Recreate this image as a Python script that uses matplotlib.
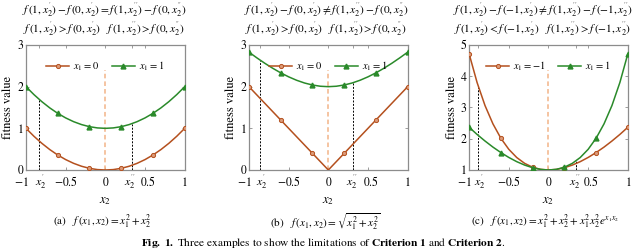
import numpy as np
import matplotlib
matplotlib.use('Agg')
import matplotlib.pyplot as plt
from matplotlib.transforms import ScaledTranslation

plt.rcParams['font.family'] = 'STIXGeneral'
plt.rcParams['mathtext.fontset'] = 'stix'

# x2 grid (step 0.1) shared by all panels
x2 = [-1.0, -0.9, -0.8, -0.7, -0.6, -0.5, -0.4, -0.3, -0.2, -0.1, 0.0,
      0.1, 0.2, 0.3, 0.4, 0.5, 0.6, 0.7, 0.8, 0.9, 1.0]

# (a) f = x1^2 + x2^2
a_x1_0 = [1.00, 0.81, 0.64, 0.49, 0.36, 0.25, 0.16, 0.09, 0.04, 0.01, 0.00,
          0.01, 0.04, 0.09, 0.16, 0.25, 0.36, 0.49, 0.64, 0.81, 1.00]
a_x1_1 = [2.00, 1.81, 1.64, 1.49, 1.36, 1.25, 1.16, 1.09, 1.04, 1.01, 1.00,
          1.01, 1.04, 1.09, 1.16, 1.25, 1.36, 1.49, 1.64, 1.81, 2.00]

# (b) f = sqrt(x1^2 + x2^2)
b_x1_0 = [2.0, 1.8, 1.6, 1.4, 1.2, 1.0, 0.8, 0.6, 0.4, 0.2, 0.0,
          0.2, 0.4, 0.6, 0.8, 1.0, 1.2, 1.4, 1.6, 1.8, 2.0]
b_x1_1 = [2.828, 2.691, 2.561, 2.441, 2.332, 2.236, 2.154, 2.088, 2.040, 2.010, 2.000,
          2.010, 2.040, 2.088, 2.154, 2.236, 2.332, 2.441, 2.561, 2.691, 2.828]

# (c) f = x1^2 + x2^2 + x1^2 x2^2 e^(x1 x2)
c_x1_m1 = [4.718, 3.802, 3.064, 2.477, 2.016, 1.662, 1.399, 1.212, 1.089, 1.021, 1.000,
           1.019, 1.073, 1.157, 1.267, 1.402, 1.558, 1.733, 1.928, 2.139, 2.368]
c_x1_p1 = [2.368, 2.139, 1.928, 1.733, 1.558, 1.402, 1.267, 1.157, 1.073, 1.019, 1.000,
           1.021, 1.089, 1.212, 1.399, 1.662, 2.016, 2.477, 3.064, 3.802, 4.718]

# x2' and x2'' positions and the heights the black dashed lines reach
a_marks = [(-0.84, 1.71), (0.33, 1.11)]
b_marks = [(-0.86, 2.64), (0.31, 2.09)]
c_marks = [(-0.89, 3.69), (0.35, 1.29)]
center_top = [2.4, 2.4, 4.2]

ylims = [(0, 3), (0, 3), (1, 5)]
yticks = [[0, 1, 2, 3], [0, 1, 2, 3], [1, 2, 3, 4, 5]]

labels = [(r'$x_1=0$', r'$x_1=1$'), (r'$x_1=0$', r'$x_1=1$'), (r'$x_1=-1$', r'$x_1=1$')]

titles = [
    (r"$f\,(1,x_2^{'})-f\,(0,x_2^{'})=f\,(1,x_2^{''})-f\,(0,x_2^{''})$",
     r"$f\,(1,x_2^{'})>f\,(0,x_2^{'})\quad f\,(1,x_2^{''})>f\,(0,x_2^{''})$"),
    (r"$f\,(1,x_2^{'})-f\,(0,x_2^{'})\neq f\,(1,x_2^{''})-f\,(0,x_2^{''})$",
     r"$f\,(1,x_2^{'})>f\,(0,x_2^{'})\quad f\,(1,x_2^{''})>f\,(0,x_2^{''})$"),
    (r"$f\,(1,x_2^{'})-f\,(-1,x_2^{'})\neq f\,(1,x_2^{''})-f\,(-1,x_2^{''})$",
     r"$f\,(1,x_2^{'})<f\,(-1,x_2^{'})\quad f\,(1,x_2^{''})>f\,(-1,x_2^{''})$"),
]
captions = [
    r"(a)   $f\,(x_1,x_2)=x_1^2+x_2^2$",
    r"(b)   $f\,(x_1,x_2)=\sqrt{x_1^2+x_2^2}$",
    r"(c)   $f\,(x_1,x_2)=x_1^2+x_2^2+x_1^2x_2^2e^{x_1x_2}$",
]

series = [(a_x1_0, a_x1_1), (b_x1_0, b_x1_1), (c_x1_m1, c_x1_p1)]
marks = [a_marks, b_marks, c_marks]

brown = '#b4501e'
green = '#2a8a2a'
orange = '#f2b488'
spine = '#8c8c8c'

fig = plt.figure(figsize=(6.4, 2.5), dpi=100)
lefts = [0.0406, 0.389, 0.733]
width = 0.248
title_cx = [104, 326, 543]
# small horizontal nudges (points) for the crowded tick labels
nudge = [-3.5, 1.5, 0, 0, -1, 2, 0]

for i in range(3):
    ax = fig.add_axes([lefts[i], 0.32, width, 0.50])
    s0, s1 = series[i]
    ax.plot(x2, s0, color=brown, lw=1.1, marker='o', markersize=3,
            markerfacecolor='#dc9a78', markeredgecolor=brown, markeredgewidth=0.7,
            markevery=[0, 4, 8, 12, 16, 20], label=labels[i][0], zorder=3)
    ax.plot(x2, s1, color=green, lw=1.1, marker='^', markersize=3.5,
            markerfacecolor=green, markeredgecolor=green,
            markevery=[0, 4, 8, 12, 16, 20], label=labels[i][1], zorder=3)
    lo, hi = ylims[i]
    ax.vlines(0, lo, center_top[i], colors=orange, linestyles=(0, (3, 2)), lw=1.1, zorder=2)
    for xm, ym in marks[i]:
        ax.vlines(xm, lo, ym, colors='black', linestyles=(0, (2, 1.5)), lw=0.7, zorder=2)
    ax.set_xlim(-1, 1)
    ax.set_ylim(lo, hi)
    ax.set_yticks(yticks[i])
    (m1, _), (m2, _) = marks[i]
    ax.set_xticks([-1, m1, -0.5, 0, m2, 0.5, 1])
    ax.set_xticklabels([r'$-1$', r"$x_2^{'}$", r'$-0.5$', r'$0$', r"$x_2^{''}$", r'$0.5$', r'$1$'])
    ax.tick_params(direction='in', length=2.5, width=0.6, color=spine,
                   labelsize=8.5, pad=2, top=True, right=True)
    ax.tick_params(axis='x', pad=11.5)
    for lab, dx in zip(ax.get_xticklabels(), nudge):
        lab.set_verticalalignment('baseline')
        lab.set_transform(lab.get_transform() + ScaledTranslation(dx / 72, 0, fig.dpi_scale_trans))
    for sp in ax.spines.values():
        sp.set_color(spine)
        sp.set_linewidth(0.9)
    ax.set_xlabel(r'$x_2$', fontsize=9, labelpad=3)
    ax.set_ylabel('fitness value', fontsize=9, labelpad=2)
    ax.legend(loc='upper center', bbox_to_anchor=(0.5, 0.96), ncol=2, frameon=False,
              fontsize=7.5, handlelength=2.2, columnspacing=1.2, handletextpad=0.4)
    cx = title_cx[i] / 640
    fig.text(cx, 1 - 11 / 250, titles[i][0], ha='center', va='center', fontsize=8.2)
    fig.text(cx, 1 - 30 / 250, titles[i][1], ha='center', va='center', fontsize=8.2)
    fig.text(lefts[i] + width / 2 - 0.005, 1 - 222 / 250, captions[i],
             ha='center', va='center', fontsize=8)

fig.text(0.505, 1 - 243 / 250,
         r'$\mathbf{Fig.\ 1.}$ Three examples to show the limitations of $\mathbf{Criterion\ 1}$ and $\mathbf{Criterion\ 2}$.',
         ha='center', va='center', fontsize=8.2)

fig.savefig('out.png', dpi=100)
